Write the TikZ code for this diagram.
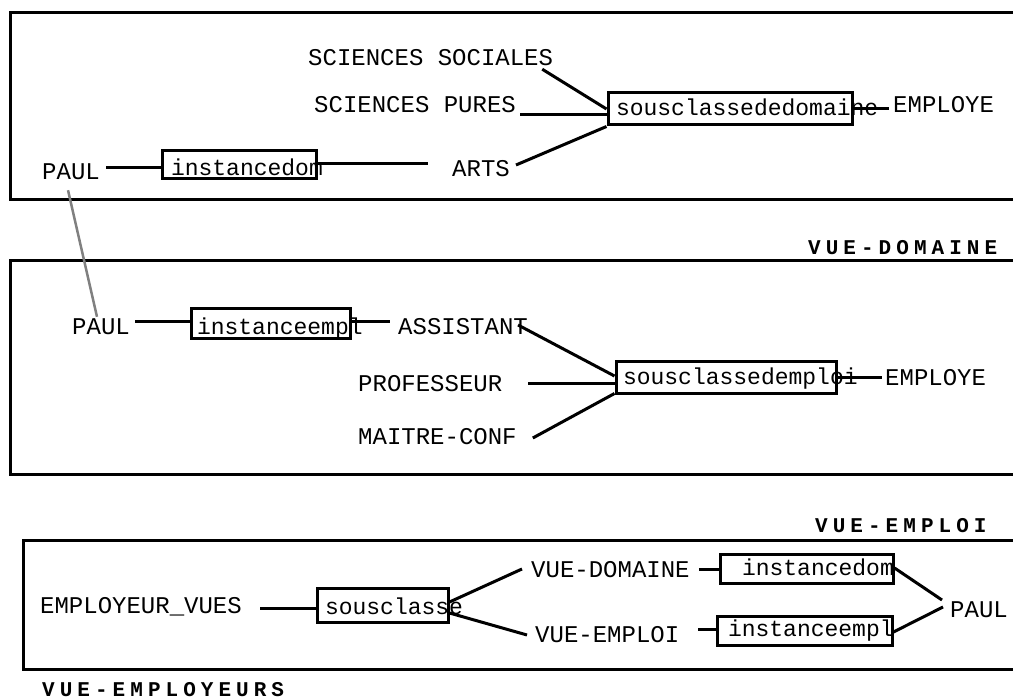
\documentclass[tikz,border=0pt]{standalone}
\usepackage{fontspec}
\usetikzlibrary{calc}
\newfontfamily\lmono{Liberation Mono}
\newfontfamily\lbold[LetterSpace=24]{Liberation Mono Bold}
\tikzset{
  lbl/.style={inner sep=0pt, anchor=base west, text height=14pt, text depth=0pt,
    font=\lmono\fontsize{24}{24}\selectfont},
  ttl/.style={inner sep=0pt, anchor=base west, font=\lbold\fontsize{21}{21}\selectfont},
  frm/.style={line width=3pt},
  conn/.style={line width=3pt},
  graylink/.style={line width=2.5pt, draw=black!50},
  cbox/.style={draw, line width=3pt, inner sep=0pt, text depth=0pt,
    font=\lmono\fontsize{23}{23}\selectfont}
}
\newcommand{\boxtxt}[3]{\makebox[#1pt][l]{\hspace*{#2pt}#3}}
\begin{document}
\begin{tikzpicture}[x=1pt,y=-1pt]
\useasboundingbox (0,0) rectangle (1013,700);
\clip (0,0) rectangle (1013,700);
% frames
\draw[frm] (1030,13) -- (10,13) -- (10,200) -- (1030,200);
\draw[frm] (1030,261) -- (10,261) -- (10,475) -- (1030,475);
\draw[frm] (1030,541) -- (23,541) -- (23,669) -- (1030,669);
% titles
\node[ttl] (tdom) at (808,255) {VUE-DOMAINE};
\node[ttl] (temp) at (815,533) {VUE-EMPLOI};
\node[ttl] (temps) at (42,696) {VUE-EMPLOYEURS};
% ---- frame 1
\node[lbl] (paulA) at (42,180) {PAUL};
\node[cbox, minimum width=154pt, minimum height=28pt, text height=22pt] (b1) at (239,165) {\boxtxt{154}{9}{instancedom}};
\node[lbl] (arts) at (452,177) {ARTS};
\node[lbl] (socl) at (308,66) {SCIENCES SOCIALES};
\node[lbl] (pures) at (314,113) {SCIENCES PURES};
\node[cbox, minimum width=244pt, minimum height=32pt, text height=14pt] (b2) at (730,109) {\boxtxt{244}{8}{sousclassededomaine}};
\node[lbl] (empa) at (893,113) {EMPLOYE};
\draw[conn] ($(b1.west -| paulA.east)+(6,3)$) -- ($(b1.west)+(0,3)$);
\draw[conn] ($(b1.east)+(0,-1)$) -- ($(b1.east -| arts.west)+(-24,-1)$);
\draw[conn] ($(socl.south east)+(-11,3)$) -- (b2.west);
\draw[conn] ($(b2.west -| pures.east)+(4,6)$) -- ($(b2.west)+(0,6)$);
\draw[conn] ($(arts.east)+(6,-5)$) -- (b2.south west);
\draw[conn] (b2.east) -- ($(b2.east -| empa.west)+(-4,0)$);
% ---- frame 2
\node[lbl] (paulB) at (72,335) {PAUL};
\node[cbox, minimum width=159pt, minimum height=30pt, text height=22pt] (b3) at (270.5,324) {\boxtxt{159}{6}{instanceempl}};
\node[lbl] (assist) at (398,335) {ASSISTANT};
\node[lbl] (prof) at (358,392) {PROFESSEUR};
\node[lbl] (maitre) at (358,445) {MAITRE-CONF};
\node[cbox, minimum width=220pt, minimum height=32pt, text height=14pt] (b4) at (726,378) {\boxtxt{220}{7}{sousclassedemploi}};
\node[lbl] (empb) at (885,386) {EMPLOYE};
\draw[conn] ($(b3.west -| paulB.east)+(5,-2)$) -- ($(b3.west)+(0,-2)$);
\draw[conn] ($(b3.east)+(0,-2)$) -- ($(b3.east -| assist.west)+(-8,-2)$);
\draw[conn] ($(assist.east)+(-10,-3)$) -- ($(b4.west)+(0,-2)$);
\draw[conn] ($(b4.west -| prof.east)+(26,6)$) -- ($(b4.west)+(0,6)$);
\draw[conn] ($(maitre.east)+(16,0)$) -- ($(b4.south west)+(0,-2)$);
\draw[conn] (b4.east) -- ($(b4.east -| empb.west)+(-3,0)$);
% ---- frame 3
\node[lbl] (empv) at (40,613) {EMPLOYEUR\_VUES};
\node[cbox, minimum width=131pt, minimum height=33pt, text height=19pt] (b5) at (382.5,605.5) {\boxtxt{131}{8}{sousclasse}};
\node[lbl] (vdom) at (531,577) {VUE-DOMAINE};
\node[lbl] (vemp) at (535,642) {VUE-EMPLOI};
\node[cbox, minimum width=173pt, minimum height=29pt, text height=13pt] (b6) at (806.5,569.5) {\boxtxt{173}{22}{instancedom}};
\node[cbox, minimum width=175pt, minimum height=29pt, text height=13pt] (b7) at (804.5,630.5) {\boxtxt{175}{11}{instanceempl}};
\node[lbl] (paulC) at (950,617) {PAUL};
\draw[conn] ($(b5.west -| empv.east)+(18,2.5)$) -- ($(b5.west)+(0,2.5)$);
\draw[conn] ($(b5.east)+(0,-3.5)$) -- ($(vdom.west)+(-9,-1)$);
\draw[conn] ($(b5.east)+(0,7.5)$) -- ($(vemp.west)+(-8,0)$);
\draw[conn] ($(b6.west -| vdom.east)+(9,0)$) -- (b6.west);
\draw[conn] ($(b7.west -| vemp.east)+(19,-1)$) -- ($(b7.west)+(0,-1)$);
\draw[conn] ($(b6.east)+(0,-1.5)$) -- ($(paulC.west)+(-8,-10)$);
\draw[conn] ($(b7.east)+(0,1.5)$) -- ($(paulC.west)+(-7,-3)$);
% link between the two PAUL
\draw[graylink] ($(paulA.south)+(-3,10)$) -- ($(paulB.north)+(-4,-4)$);
\end{tikzpicture}
\end{document}
